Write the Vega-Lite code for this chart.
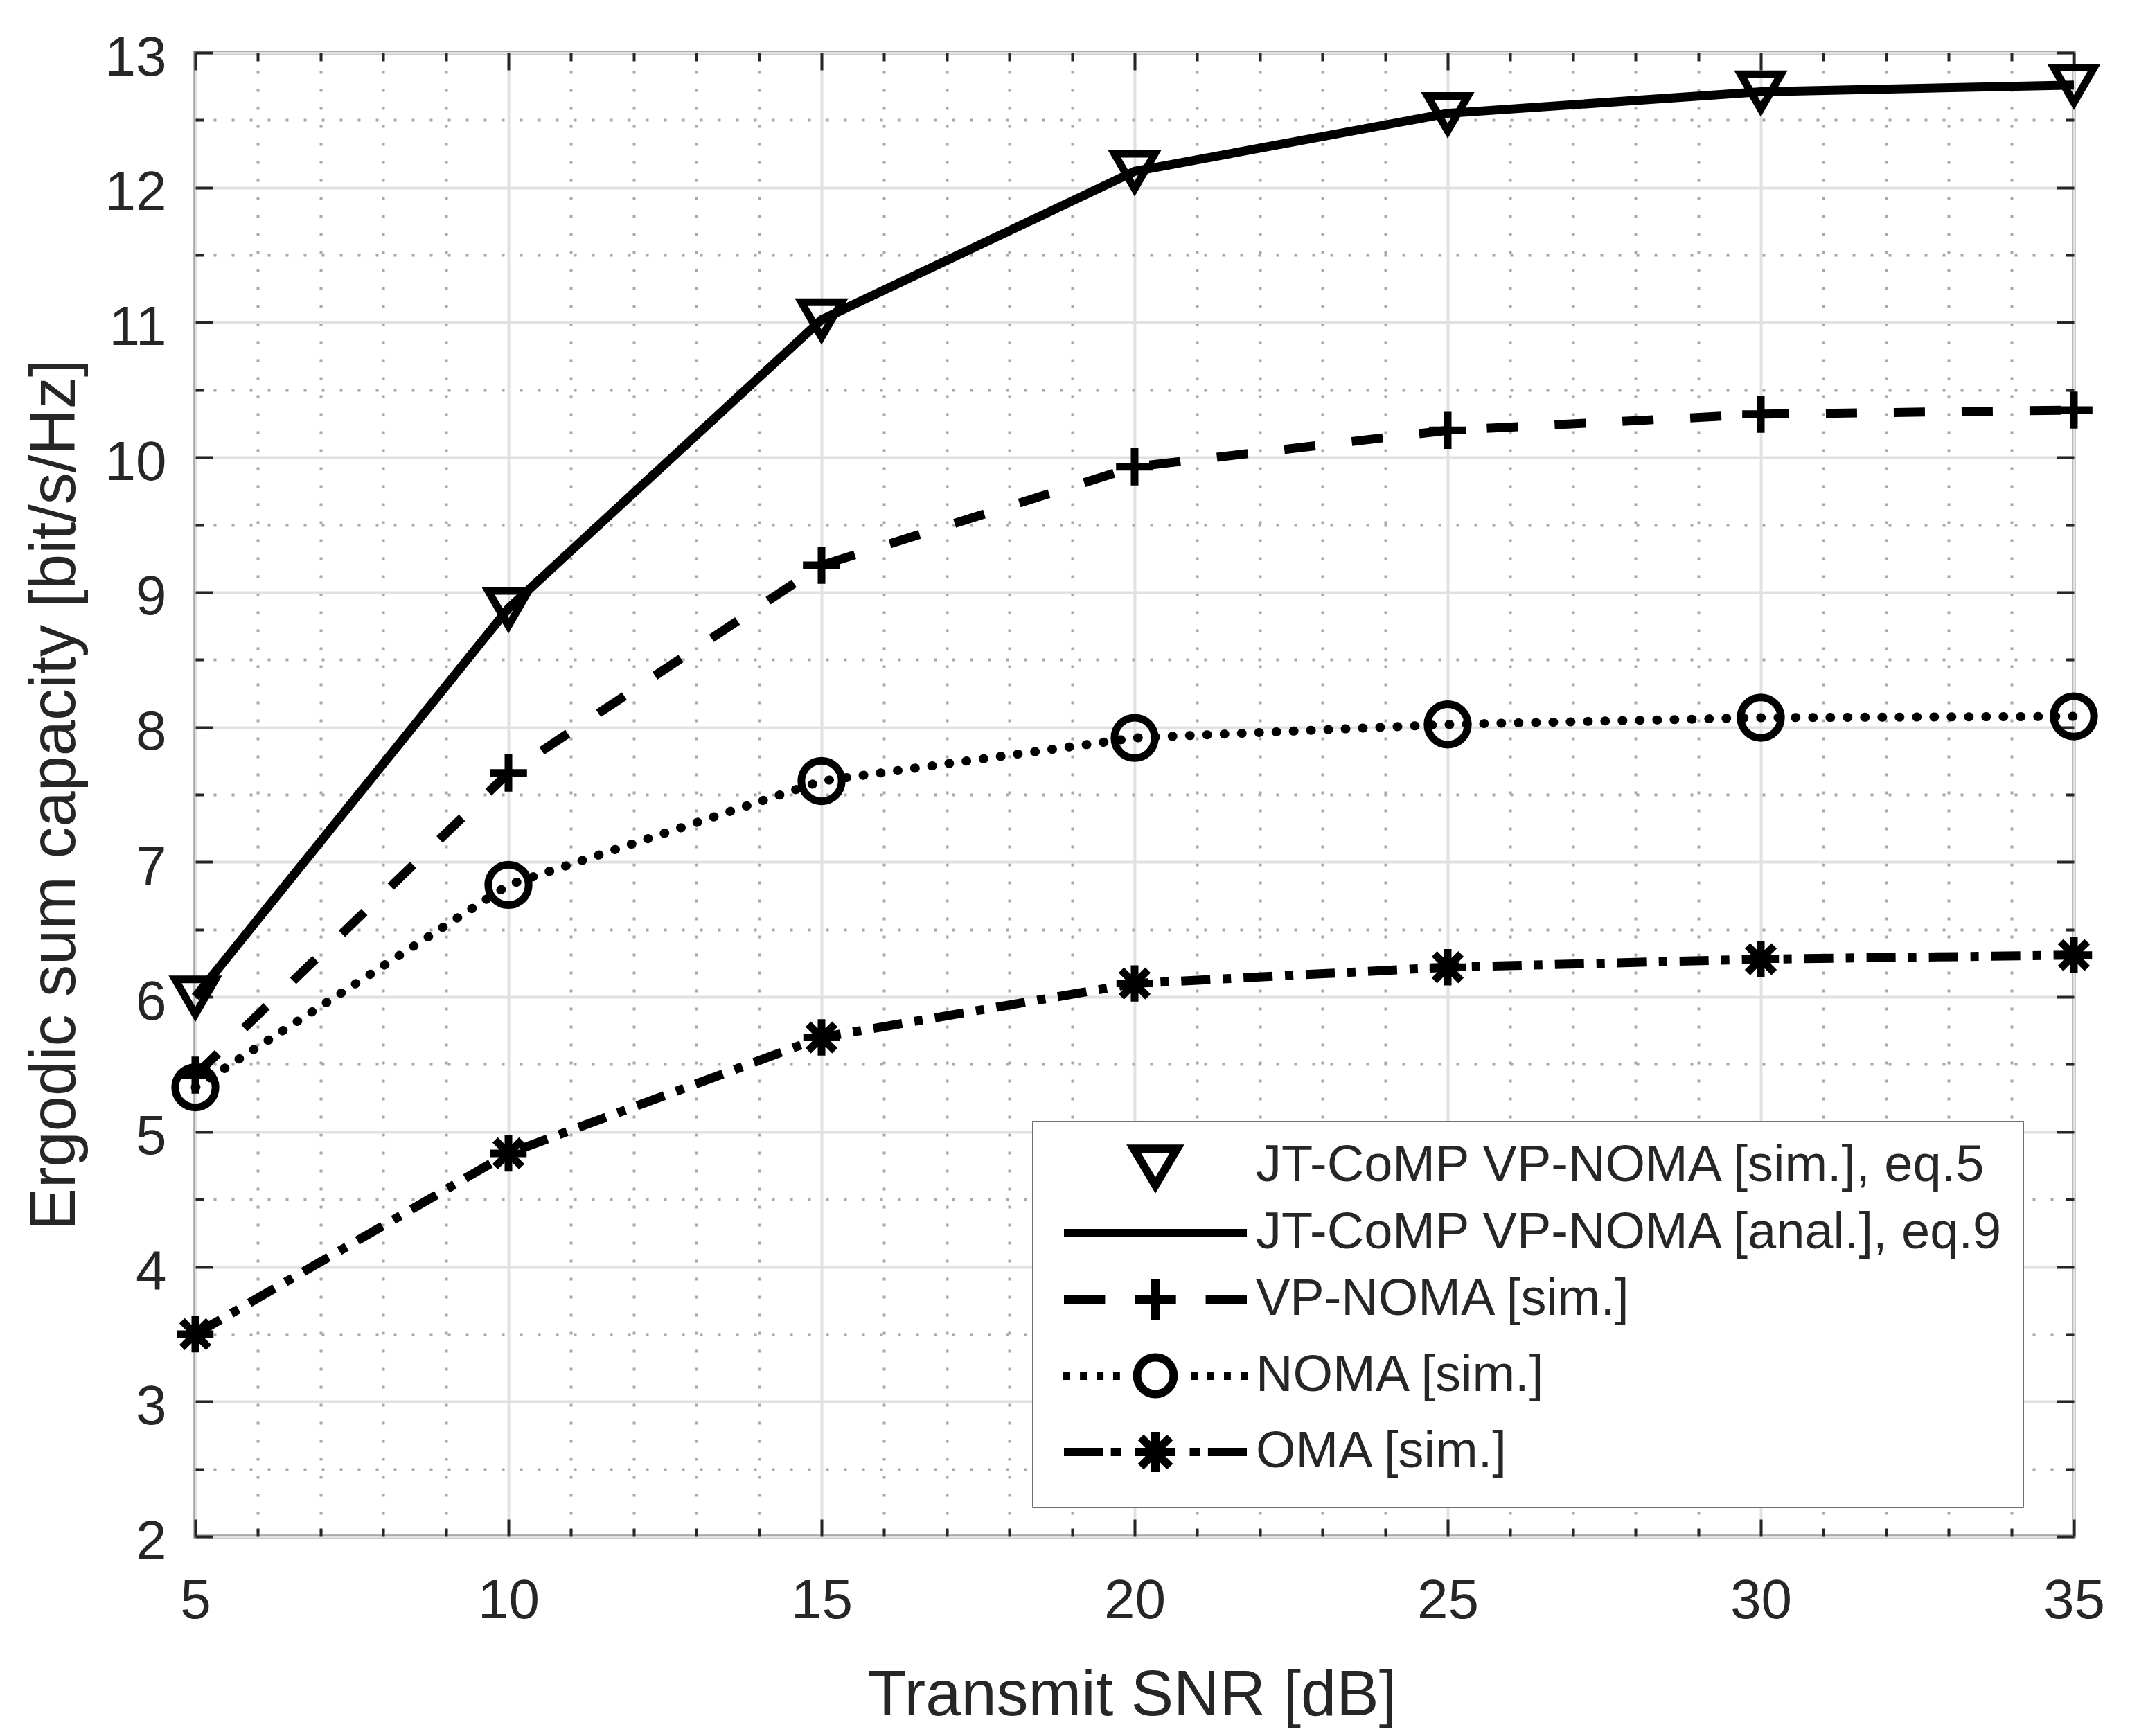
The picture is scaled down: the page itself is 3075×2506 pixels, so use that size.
{
  "$schema": "https://vega.github.io/schema/vega-lite/v6.json",
  "width": 2712,
  "height": 2142,
  "autosize": {"type": "none"},
  "padding": {"left": 282, "top": 76, "right": 81, "bottom": 288},
  "background": "white",
  "config": {
    "font": "Liberation Sans",
    "view": {"stroke": "#707070", "strokeWidth": 5},
    "axis": {
      "domain": false,
      "labelFlush": false,
      "labelOverlap": false,
      "tickColor": "#262626",
      "tickWidth": 4,
      "labelColor": "#262626",
      "titleColor": "#262626"
    }
  },
  "data": {
    "values": [
      {"snr": 5, "cap": 6.0, "series": "JT-CoMP VP-NOMA [sim.], eq.5"},
      {"snr": 10, "cap": 8.88, "series": "JT-CoMP VP-NOMA [sim.], eq.5"},
      {"snr": 15, "cap": 11.02, "series": "JT-CoMP VP-NOMA [sim.], eq.5"},
      {"snr": 20, "cap": 12.12, "series": "JT-CoMP VP-NOMA [sim.], eq.5"},
      {"snr": 25, "cap": 12.55, "series": "JT-CoMP VP-NOMA [sim.], eq.5"},
      {"snr": 30, "cap": 12.71, "series": "JT-CoMP VP-NOMA [sim.], eq.5"},
      {"snr": 35, "cap": 12.76, "series": "JT-CoMP VP-NOMA [sim.], eq.5"},
      {"snr": 5, "cap": 6.0, "series": "JT-CoMP VP-NOMA [anal.], eq.9"},
      {"snr": 10, "cap": 8.88, "series": "JT-CoMP VP-NOMA [anal.], eq.9"},
      {"snr": 15, "cap": 11.02, "series": "JT-CoMP VP-NOMA [anal.], eq.9"},
      {"snr": 20, "cap": 12.12, "series": "JT-CoMP VP-NOMA [anal.], eq.9"},
      {"snr": 25, "cap": 12.55, "series": "JT-CoMP VP-NOMA [anal.], eq.9"},
      {"snr": 30, "cap": 12.71, "series": "JT-CoMP VP-NOMA [anal.], eq.9"},
      {"snr": 35, "cap": 12.76, "series": "JT-CoMP VP-NOMA [anal.], eq.9"},
      {"snr": 5, "cap": 5.42, "series": "VP-NOMA [sim.]"},
      {"snr": 10, "cap": 7.66, "series": "VP-NOMA [sim.]"},
      {"snr": 15, "cap": 9.2, "series": "VP-NOMA [sim.]"},
      {"snr": 20, "cap": 9.93, "series": "VP-NOMA [sim.]"},
      {"snr": 25, "cap": 10.2, "series": "VP-NOMA [sim.]"},
      {"snr": 30, "cap": 10.32, "series": "VP-NOMA [sim.]"},
      {"snr": 35, "cap": 10.35, "series": "VP-NOMA [sim.]"},
      {"snr": 5, "cap": 5.33, "series": "NOMA [sim.]"},
      {"snr": 10, "cap": 6.83, "series": "NOMA [sim.]"},
      {"snr": 15, "cap": 7.6, "series": "NOMA [sim.]"},
      {"snr": 20, "cap": 7.92, "series": "NOMA [sim.]"},
      {"snr": 25, "cap": 8.02, "series": "NOMA [sim.]"},
      {"snr": 30, "cap": 8.07, "series": "NOMA [sim.]"},
      {"snr": 35, "cap": 8.08, "series": "NOMA [sim.]"},
      {"snr": 5, "cap": 3.5, "series": "OMA [sim.]"},
      {"snr": 10, "cap": 4.84, "series": "OMA [sim.]"},
      {"snr": 15, "cap": 5.7, "series": "OMA [sim.]"},
      {"snr": 20, "cap": 6.1, "series": "OMA [sim.]"},
      {"snr": 25, "cap": 6.22, "series": "OMA [sim.]"},
      {"snr": 30, "cap": 6.28, "series": "OMA [sim.]"},
      {"snr": 35, "cap": 6.31, "series": "OMA [sim.]"}
    ]
  },
  "layer": [
    {
      "transform": [{"filter": "datum.series === 'JT-CoMP VP-NOMA [anal.], eq.9'"}],
      "mark": {"type": "line", "color": "black", "strokeWidth": 13},
      "encoding": {
        "x": {
          "field": "snr", "type": "quantitative",
          "scale": {"domain": [5, 35], "nice": false, "zero": false},
          "axis": {
            "orient": "bottom", "values": [5, 10, 15, 20, 25, 30, 35],
            "ticks": false, "grid": true, "gridColor": "#e1e1e1", "gridWidth": 4,
            "labelFontSize": 80, "labelBaseline": "alphabetic", "labelPadding": 117,
            "title": "Transmit SNR [dB]", "titleFontSize": 92, "titleFontWeight": "normal",
            "titleBaseline": "alphabetic", "titleX": 1352, "titleY": 257
          }
        },
        "y": {
          "field": "cap", "type": "quantitative",
          "scale": {"domain": [2, 13], "nice": false, "zero": false},
          "axis": {
            "orient": "left", "values": [2, 3, 4, 5, 6, 7, 8, 9, 10, 11, 12, 13],
            "ticks": false, "grid": true, "gridColor": "#e1e1e1", "gridWidth": 4,
            "labelFontSize": 80, "labelPadding": 42, "labelOffset": 8,
            "title": "Ergodic sum capacity [bit/s/Hz]", "titleFontSize": 92, "titleFontWeight": "normal",
            "titleAngle": 270, "titleBaseline": "alphabetic", "titleAlign": "center",
            "titleX": -175, "titleY": 1071
          }
        }
      }
    },
    {
      "transform": [{"filter": "datum.series === 'VP-NOMA [sim.]'"}],
      "mark": {"type": "line", "color": "black", "strokeWidth": 13, "strokeDash": [45, 53]},
      "encoding": {
        "x": {
          "field": "snr", "type": "quantitative",
          "axis": {"orient": "top", "values": [5, 10, 15, 20, 25, 30, 35], "labels": false, "grid": false, "tickSize": -25, "title": null}
        },
        "y": {
          "field": "cap", "type": "quantitative",
          "axis": {"orient": "right", "values": [2, 3, 4, 5, 6, 7, 8, 9, 10, 11, 12, 13], "labels": false, "grid": false, "tickSize": -25, "title": null}
        }
      }
    },
    {
      "transform": [{"filter": "datum.series === 'NOMA [sim.]'"}],
      "mark": {"type": "line", "color": "black", "strokeWidth": 13, "strokeDash": [1, 24], "strokeCap": "round"},
      "encoding": {
        "x": {
          "field": "snr", "type": "quantitative",
          "axis": {
            "orient": "bottom",
            "values": [6, 7, 8, 9, 11, 12, 13, 14, 16, 17, 18, 19, 21, 22, 23, 24, 26, 27, 28, 29, 31, 32, 33, 34],
            "labels": false, "tickSize": -12, "grid": true, "gridColor": "#a8a8a8", "gridWidth": 4, "gridDash": [4, 22], "title": null
          }
        },
        "y": {
          "field": "cap", "type": "quantitative",
          "axis": {
            "orient": "left",
            "values": [2.5, 3.5, 4.5, 5.5, 6.5, 7.5, 8.5, 9.5, 10.5, 11.5, 12.5],
            "labels": false, "tickSize": -12, "grid": true, "gridColor": "#a8a8a8", "gridWidth": 4, "gridDash": [4, 22], "title": null
          }
        }
      }
    },
    {
      "transform": [{"filter": "datum.series === 'OMA [sim.]'"}],
      "mark": {"type": "line", "color": "black", "strokeWidth": 13, "strokeDash": [42, 18, 12, 18]},
      "encoding": {
        "x": {
          "field": "snr", "type": "quantitative",
          "axis": {
            "orient": "top",
            "values": [6, 7, 8, 9, 11, 12, 13, 14, 16, 17, 18, 19, 21, 22, 23, 24, 26, 27, 28, 29, 31, 32, 33, 34],
            "labels": false, "tickSize": -12, "grid": false, "title": null
          }
        },
        "y": {
          "field": "cap", "type": "quantitative",
          "axis": {
            "orient": "right",
            "values": [2.5, 3.5, 4.5, 5.5, 6.5, 7.5, 8.5, 9.5, 10.5, 11.5, 12.5],
            "labels": false, "tickSize": -12, "grid": false, "title": null
          }
        }
      }
    },
    {
      "transform": [{"filter": "datum.series !== 'JT-CoMP VP-NOMA [anal.], eq.9'"}],
      "mark": {"type": "point", "filled": false, "color": "black", "strokeWidth": 11, "size": 3400, "opacity": 1},
      "encoding": {
        "x": {
          "field": "snr", "type": "quantitative",
          "axis": {"orient": "bottom", "values": [5, 10, 15, 20, 25, 30, 35], "labels": false, "grid": false, "tickSize": -25, "title": null}
        },
        "y": {
          "field": "cap", "type": "quantitative",
          "axis": {"orient": "left", "values": [2, 3, 4, 5, 6, 7, 8, 9, 10, 11, 12, 13], "labels": false, "grid": false, "tickSize": -25, "title": null}
        },
        "shape": {
          "field": "series", "type": "nominal", "legend": null,
          "scale": {
            "domain": ["JT-CoMP VP-NOMA [sim.], eq.5", "VP-NOMA [sim.]", "NOMA [sim.]", "OMA [sim.]"],
            "range": [
              "triangle-down",
              "M-0.92,0H0.92M0,-0.92V0.92",
              "circle",
              "M-0.9,0H0.9M0,-0.9V0.9M-0.66,-0.66L0.66,0.66M-0.66,0.66L0.66,-0.66"
            ]
          }
        }
      }
    },
    {
      "transform": [{"filter": "false"}],
      "mark": {"type": "point", "filled": false, "color": "black", "opacity": 1},
      "encoding": {
        "shape": {
          "field": "series", "type": "nominal",
          "scale": {
            "domain": [
              "JT-CoMP VP-NOMA [sim.], eq.5",
              "JT-CoMP VP-NOMA [anal.], eq.9",
              "VP-NOMA [sim.]",
              "NOMA [sim.]",
              "OMA [sim.]"
            ],
            "range": [
              "M0,0.85L-0.95,-0.75L0.95,-0.75Z",
              "M-4,0H4",
              "M-4,0H-2.2M2.2,0H4M-0.9,0H0.9M0,-0.9V0.9",
              "M-4.03,0H-3.73M-3.3,0H-3M-2.57,0H-2.27M-1.85,0H-1.55M1.55,0H1.85M2.27,0H2.57M3,0H3.3M3.73,0H4.03M0.8,0A0.8,0.8 0 1 1 -0.8,0A0.8,0.8 0 1 1 0.8,0",
              "M-4,0H-2.3M-1.95,0H-1.5M1.5,0H1.95M2.3,0H4M-0.88,0H0.88M0,-0.88V0.88M-0.64,-0.64L0.64,0.64M-0.64,0.64L0.64,-0.64"
            ]
          },
          "legend": {
            "orient": "none", "legendX": 1208, "legendY": 1542,
            "title": null, "direction": "vertical",
            "symbolSize": 4356, "symbolStrokeWidth": 12, "symbolStrokeColor": "black", "symbolFillColor": "transparent",
            "symbolOpacity": 1,
            "symbolOffset": 113, "labelOffset": 106,
            "labelFont": "Liberation Sans", "labelFontSize": 74, "labelColor": "#262626", "labelLimit": 2000,
            "rowPadding": 5, "padding": 26,
            "fillColor": "white", "strokeColor": "#707070",
            "encode": {"legend": {"update": {"strokeWidth": {"value": 5}}}}
          }
        }
      }
    }
  ],
  "resolve": {
    "axis": {"x": "independent", "y": "independent"},
    "scale": {"shape": "independent"}
  }
}
